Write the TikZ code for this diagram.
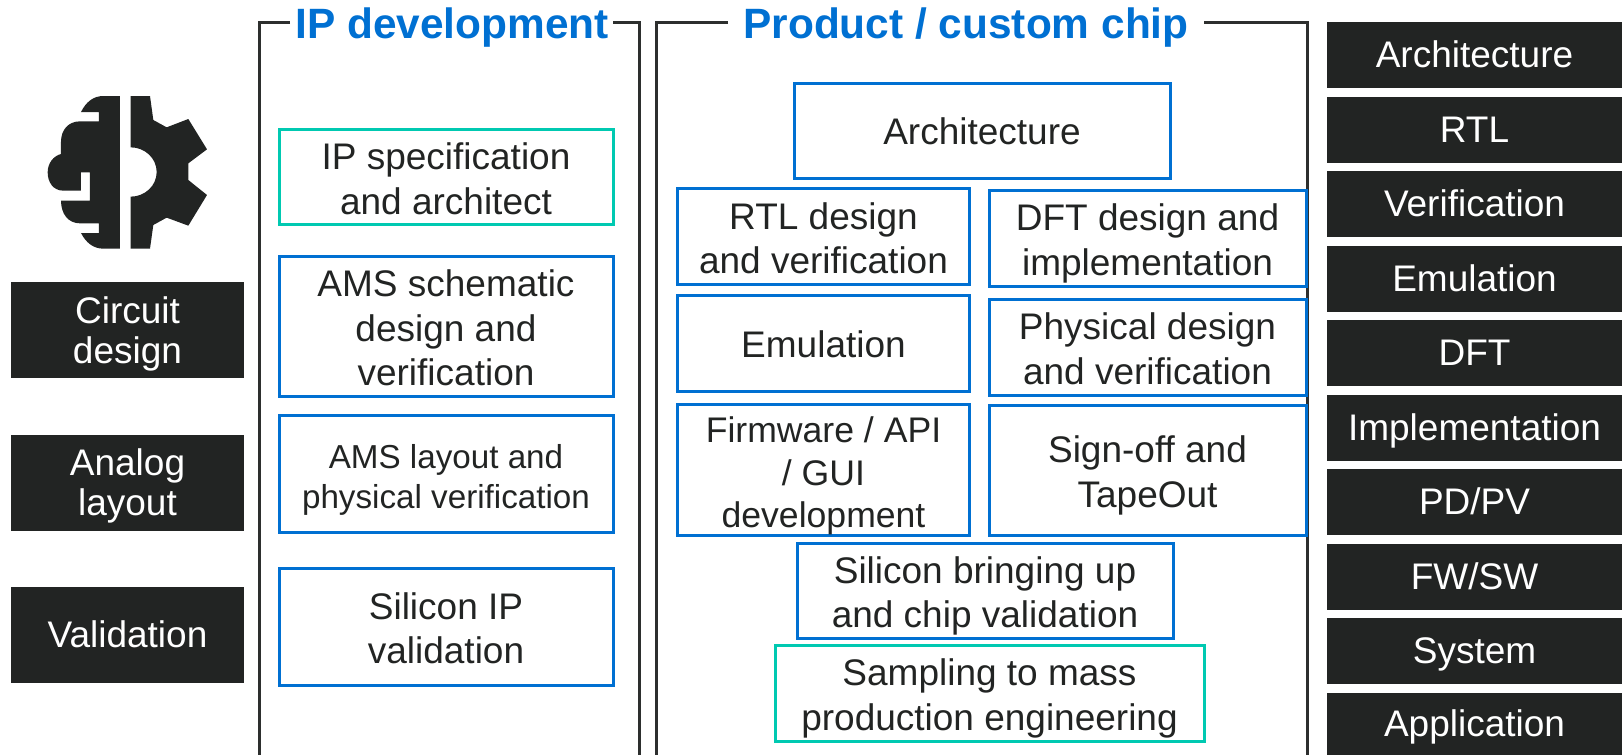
\documentclass[tikz,border=0pt]{standalone}
\usepackage{fontspec}
\setmainfont{Liberation Sans}
\definecolor{inkdark}{HTML}{222423}
\definecolor{boxblue}{HTML}{0070D2}
\definecolor{boxteal}{HTML}{00C9B1}
\newcommand{\firstline}{\rule{0pt}{38pt}}
\newcommand{\firstrole}{\rule{0pt}{34pt}}
\begin{document}
\begin{tikzpicture}[x=1pt,y=-1pt]
        \tikzstyle{stage}=[rectangle,line width=3pt,draw=boxblue,text=inkdark,inner sep=0pt,align=center,font=\fontsize{37}{44.5}\selectfont,execute at end node={\rule[-8pt]{0pt}{44pt}}]
        \tikzstyle{milestone}=[stage,draw=boxteal]
        \tikzstyle{role}=[rectangle,fill=inkdark,text=white,inner sep=0pt,align=center,font=\fontsize{37}{40}\selectfont,minimum width=233pt,minimum height=96pt,execute at end node={\rule[-8pt]{0pt}{41pt}}]
        \tikzstyle{skill}=[rectangle,fill=inkdark,text=white,inner sep=0pt,font=\fontsize{37}{40}\selectfont,minimum width=295pt,minimum height=66pt,execute at end node={\rule[-8pt]{0pt}{41pt}}]
        \tikzstyle{heading}=[text=boxblue,inner sep=0pt,font=\fontsize{42.4}{48}\bfseries\selectfont]
        \tikzstyle{frameline}=[line width=3pt,draw=inkdark!95!white]
        \useasboundingbox (0,0) rectangle (1624,755);

        % icon
        \begin{scope}[x=.33333pt,y=-.33333pt,shift={(0,180)}]
        \fill[inkdark] (360,108) -- (360,566) -- (310,566) .. controls (280,566) and (258,548) .. (243,519) -- (297,519) -- (297,490) -- (240,490) .. controls (205,490) and (183,462) .. (183,422) -- (270,422) -- (270,337) -- (243,337) -- (243,392) -- (190,392) .. controls (160,392) and (143,367) .. (143,337) .. controls (143,310) and (160,288) .. (183,282) -- (183,245) .. controls (183,210) and (205,184) .. (240,184) -- (297,184) -- (297,156) -- (243,156) .. controls (258,126) and (280,108) .. (310,108) -- cycle;
        \fill[inkdark] (392,108) -- (450,108) -- (460,180) -- (500,202) -- (565,177) -- (621,268) -- (565,310) -- (565,360) -- (621,405) -- (565,497) -- (500,473) -- (460,495) -- (450,566) -- (392,566) -- (392,410) arc[start angle=90,end angle=-90,x radius=78,y radius=74] -- cycle;
        \end{scope}

        % left column
        \node[role](circuit) at (127.5,330){\firstrole Circuit\\design};
        \node[role](layout) at (127.5,482.5){\firstrole Analog\\layout};
        \node[role](validation) at (127.5,635){Validation};

        % IP development
        \node[heading](iptitle) at (452,28){IP development};
        \coordinate (ipnw) at (259.5,22);
        \coordinate (ipne) at (639,22);
        \coordinate (ipsw) at (259.5,755);
        \coordinate (ipse) at (639,755);
        \coordinate (ipgapl) at (290,22);
        \coordinate (ipgapr) at (613,22);
        \draw[frameline] (ipgapl) -- (ipnw) -- (ipsw);
        \draw[frameline] (ipgapr) -- (ipne) -- (ipse);
        \node[milestone,minimum width=334pt,minimum height=95pt](ipspec) at (446,177){\firstline IP specification\\and architect};
        \node[stage,minimum width=334pt,minimum height=140pt](amssch) at (446,326){\firstline AMS schematic\\design and\\verification};
        \node[stage,minimum width=334pt,minimum height=117pt,font=\fontsize{33.2}{39.5}\selectfont](amslay) at (446,473.5){\firstline AMS layout and\\physical verification};
        \node[stage,minimum width=334pt,minimum height=117pt](ipval) at (446,626.5){\firstline Silicon IP\\validation};

        % product / custom chip
        \node[heading](chiptitle) at (966,28){Product / custom chip};
        \coordinate (chipnw) at (656.5,22);
        \coordinate (chipne) at (1307,22);
        \coordinate (chipsw) at (656.5,755);
        \coordinate (chipse) at (1307,755);
        \coordinate (chipgapl) at (728,22);
        \coordinate (chipgapr) at (1204,22);
        \draw[frameline] (chipgapl) -- (chipnw) -- (chipsw);
        \draw[frameline] (chipgapr) -- (chipne) -- (chipse);
        \node[stage,minimum width=376pt,minimum height=95pt](arch) at (982,130.5){Architecture};
        \node[stage,minimum width=292pt,minimum height=96pt](rtl) at (823.5,236.5){\firstline RTL design\\and verification};
        \node[stage,minimum width=317pt,minimum height=96pt](dft) at (1147.5,238){\firstline DFT design and\\implementation};
        \node[stage,minimum width=292pt,minimum height=96pt](emu) at (823.5,343){Emulation};
        \node[stage,minimum width=317pt,minimum height=96pt](phys) at (1147.5,347){\firstline Physical design\\and verification};
        \node[stage,minimum width=292pt,minimum height=130pt,font=\fontsize{35.6}{42.5}\selectfont](fw) at (823.5,470){\firstline Firmware / API\\/ GUI\\development};
        \node[stage,minimum width=317pt,minimum height=130pt](sign) at (1147.5,470){\firstline Sign-off and\\TapeOut};
        \node[stage,minimum width=376pt,minimum height=95pt](bringup) at (985,590.5){\firstline Silicon bringing up\\and chip validation};
        \node[milestone,minimum width=429pt,minimum height=96pt](mass) at (989.5,693){\firstline Sampling to mass\\production engineering};

        % right column
        \node[skill](s1) at (1474.5,55){Architecture};
        \node[skill](s2) at (1474.5,129.5){RTL};
        \node[skill](s3) at (1474.5,204){Verification};
        \node[skill](s4) at (1474.5,278.5){Emulation};
        \node[skill](s5) at (1474.5,353){DFT};
        \node[skill](s6) at (1474.5,427.5){Implementation};
        \node[skill](s7) at (1474.5,502){PD/PV};
        \node[skill](s8) at (1474.5,576.5){FW/SW};
        \node[skill](s9) at (1474.5,651){System};
        \node[skill,minimum height=62.5pt](s10) at (1474.5,723.75){Application};
\end{tikzpicture}
\end{document}
